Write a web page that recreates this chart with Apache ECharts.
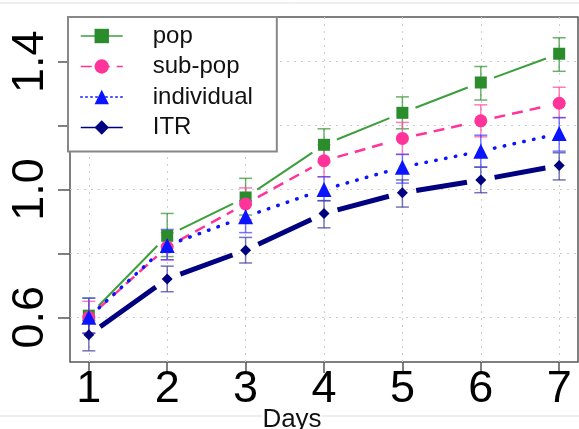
<!DOCTYPE html>
<html>
<head>
<meta charset="utf-8">
<script src="https://cdn.jsdelivr.net/npm/echarts@6/dist/echarts.min.js"></script>
<style>
  html, body { margin: 0; padding: 0; background: #fff; }
  #chart { width: 579px; height: 429px; }
</style>
</head>
<body>
<div id="chart"></div>
<script>
// days on the x axis
const days = [1, 2, 3, 4, 5, 6, 7];
const xTicks = [1, 2, 3, 4, 5, 6, 7];
const yTicks = [0.6, 0.8, 1.0, 1.2, 1.4];
const yLabels = [0.6, 1.0, 1.4];

// pop
const popMean = [0.605, 0.855, 0.975, 1.14, 1.24, 1.335, 1.425];
const popLow  = [0.55, 0.79, 0.92, 1.085, 1.19, 1.28, 1.37];
const popHigh = [0.66, 0.925, 1.035, 1.19, 1.29, 1.385, 1.475];
// sub-pop
const subMean = [0.60, 0.82, 0.955, 1.09, 1.16, 1.215, 1.27];
const subLow  = [0.55, 0.78, 0.905, 1.04, 1.11, 1.165, 1.225];
const subHigh = [0.65, 0.865, 1.005, 1.14, 1.21, 1.265, 1.32];
// individual
const indMean = [0.60, 0.825, 0.915, 1.00, 1.07, 1.12, 1.175];
const indLow  = [0.55, 0.78, 0.865, 0.965, 1.02, 1.07, 1.12];
const indHigh = [0.66, 0.875, 0.965, 1.04, 1.11, 1.17, 1.225];
// ITR
const itrMean = [0.545, 0.72, 0.81, 0.925, 0.99, 1.03, 1.075];
const itrLow  = [0.495, 0.68, 0.77, 0.88, 0.945, 0.99, 1.03];
const itrHigh = [0.59, 0.76, 0.85, 0.965, 1.03, 1.07, 1.115];

const font = 'Liberation Sans, Arial, sans-serif';

// line looks per group (used for the gapped segments and the legend)
const popLine = { color: '#3c9e3c', width: 2 };
const subLine = { color: '#ff3399', width: 2.5, type: [11, 7] };
const indLine = { color: '#0a14ff', width: 3.5, type: [0.5, 9.5], cap: 'round' };
const itrLine = { color: '#000080', width: 5 };

function pts(mean) {
  return days.map((d, i) => [d, mean[i]]);
}
function bars(low, high) {
  return days.map((d, i) => [d, low[i], high[i]]);
}
function segs(mean) {
  const out = [];
  for (let i = 0; i < days.length - 1; i++) out.push([days[i], mean[i], days[i + 1], mean[i + 1]]);
  return out;
}

// error bars with caps
function errorBars(color) {
  return function (params, api) {
    const x = api.value(0);
    const lo = api.coord([x, api.value(1)]);
    const hi = api.coord([x, api.value(2)]);
    const w = 6.5;
    const style = { stroke: color, lineWidth: 1.5 };
    return {
      type: 'group',
      children: [
        { type: 'line', shape: { x1: lo[0], y1: lo[1], x2: hi[0], y2: hi[1] }, style: style },
        { type: 'line', shape: { x1: lo[0] - w, y1: lo[1], x2: lo[0] + w, y2: lo[1] }, style: style },
        { type: 'line', shape: { x1: hi[0] - w, y1: hi[1], x2: hi[0] + w, y2: hi[1] }, style: style }
      ]
    };
  };
}
function errSeries(name, low, high, color) {
  return {
    name: name, type: 'custom', silent: true, z: 3,
    renderItem: errorBars(color),
    encode: { x: 0, y: [1, 2] },
    data: bars(low, high)
  };
}

// line pieces that stop short of the markers (R type="b")
function segSeries(name, mean, ls) {
  const gap = 14;
  return {
    name: name, type: 'custom', silent: true, z: 2,
    renderItem: function (params, api) {
      const a = api.coord([api.value(0), api.value(1)]);
      const b = api.coord([api.value(2), api.value(3)]);
      const dx = b[0] - a[0], dy = b[1] - a[1];
      const len = Math.sqrt(dx * dx + dy * dy);
      const ux = dx / len, uy = dy / len;
      return {
        type: 'line',
        shape: { x1: a[0] + ux * gap, y1: a[1] + uy * gap, x2: b[0] - ux * gap, y2: b[1] - uy * gap },
        style: { stroke: ls.color, lineWidth: ls.width, lineDash: ls.type || null, lineCap: ls.cap || 'butt' }
      };
    },
    encode: { x: [0, 2], y: [1, 3] },
    data: segs(mean)
  };
}

function markSeries(name, mean, symbol, size, color) {
  return {
    name: name, type: 'line', data: pts(mean), z: 4,
    symbol: symbol, symbolSize: size,
    itemStyle: { color: color },
    lineStyle: { opacity: 0 }
  };
}

// legend samples are drawn thin in the reference
function legendItem(name, ls) {
  return { name: name, lineStyle: Object.assign({}, ls, { opacity: 1, width: 1.5 }) };
}

const chart = echarts.init(document.getElementById('chart'));
chart.setOption({
  animation: false,
  grid: {
    left: 70, right: 1, top: 17, bottom: 67,
    show: true, borderColor: '#555', borderWidth: 1.5, backgroundColor: '#fff'
  },
  legend: {
    data: [
      legendItem('pop', popLine),
      legendItem('sub-pop', subLine),
      legendItem('individual', Object.assign({}, indLine, { type: [1.5, 3.5] })),
      legendItem('ITR', itrLine)
    ],
    orient: 'vertical',
    left: 68, top: 17,
    padding: [7, 24, 12, 12],
    itemWidth: 42, itemHeight: 18, itemGap: 6.5,
    backgroundColor: '#fff',
    borderColor: '#888', borderWidth: 2,
    textStyle: { fontFamily: font, fontSize: 24, color: '#111', padding: [0, 0, 0, 25] }
  },
  xAxis: {
    type: 'value', min: 0.76, max: 7.24,
    axisLine: { show: false },
    axisTick: { show: true, length: 11, lineStyle: { color: '#555', width: 1.5 }, customValues: xTicks },
    axisLabel: { customValues: xTicks, fontFamily: font, fontSize: 45, color: '#000', margin: 5 },
    splitLine: { show: true, lineStyle: { color: '#ccc', type: [2, 5], width: 1 } }
  },
  yAxis: {
    type: 'value', min: 0.46, max: 1.54,
    axisLine: { show: false },
    axisTick: { show: true, length: 12, lineStyle: { color: '#555', width: 1.5 }, customValues: yTicks },
    axisLabel: {
      customValues: yLabels, rotate: 90, fontFamily: font, fontSize: 45, color: '#000', margin: 17,
      formatter: v => v.toFixed(1)
    },
    splitLine: { show: true, lineStyle: { color: '#ccc', type: [2, 5], width: 1 } }
  },
  graphic: [
    { type: 'line', shape: { x1: 0, y1: 3, x2: 579, y2: 3 }, style: { stroke: '#ddd', lineWidth: 1 } },
    { type: 'line', shape: { x1: 0, y1: 416, x2: 579, y2: 416 }, style: { stroke: '#ddd', lineWidth: 1 } },
    {
      type: 'text', x: 292, y: 407, z: 10,
      style: { text: 'Days', fontFamily: font, fontSize: 26, fill: '#111', align: 'center', backgroundColor: '#fff' }
    }
  ],
  series: [
    segSeries('pop-line', popMean, popLine),
    segSeries('sub-line', subMean, subLine),
    segSeries('ind-line', indMean, indLine),
    segSeries('itr-line', itrMean, itrLine),
    errSeries('pop-err', popLow, popHigh, 'rgba(60,150,60,0.75)'),
    errSeries('sub-err', subLow, subHigh, 'rgba(255,80,160,0.75)'),
    errSeries('ind-err', indLow, indHigh, 'rgba(60,60,255,0.7)'),
    errSeries('itr-err', itrLow, itrHigh, 'rgba(70,70,160,0.75)'),
    markSeries('pop', popMean, 'rect', 12, '#2a8c2a'),
    markSeries('sub-pop', subMean, 'circle', 13, '#ff3399'),
    markSeries('individual', indMean, 'triangle', 15, '#0a14ff'),
    markSeries('ITR', itrMean, 'diamond', 11, '#000080')
  ]
});
</script>
</body>
</html>
